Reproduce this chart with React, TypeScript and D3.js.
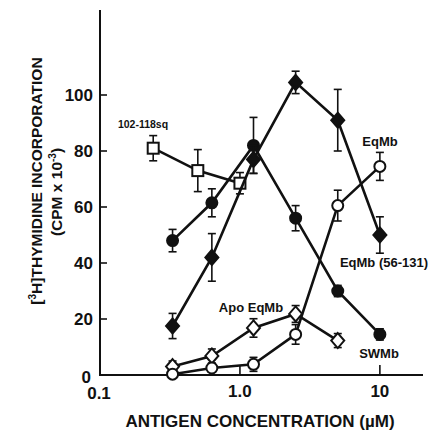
import * as d3 from "d3";

// antigen concentrations (uM) used for the Mb series
const concX = [0.33, 0.63, 1.25, 2.5, 5, 10];
const apoX = [0.33, 0.63, 1.25, 2.5, 5];
const sqX = [0.24, 0.5, 1.0];

// CPM x 10^-3, with error bar half-lengths
const sqY = [81, 73, 68.5];
const sqErr = [4.5, 7.5, 3.8];
const swmbY = [48, 61.5, 82, 56, 30, 14.5];
const swmbErr = [4, 5, 10, 4.5, 2, 2];
const eq56Y = [17.5, 42, 77, 104.5, 91, 50];
const eq56Err = [4.5, 8.5, 5, 4, 11, 6.5];
const eqmbY = [0.3, 2.5, 3.8, 14.5, 60.5, 74.5];
const eqmbErr = [1.5, 1.5, 2.5, 3.5, 5.5, 5];
const apoY = [3, 6.8, 16.8, 21.8, 12.3];
const apoErr = [2, 2.5, 3.3, 3, 2.5];

const xTicks = [0.1, 1, 10];
const xTickLabels = ["0.1", "1.0", "10"];
const yTicks = [0, 20, 40, 60, 80, 100];

const width = 429;
const height = 432;

const x = d3.scaleLog().domain([0.1, 20]).range([100, 422]);
const y = d3.scaleLinear().domain([0, 130]).range([375, 11]);

const font = "Arial, 'Liberation Sans', Helvetica, sans-serif";

type Shape = "square" | "circle" | "diamond";

function Marker({ cx, cy, shape, filled }: { cx: number; cy: number; shape: Shape; filled: boolean }) {
  const fill = filled ? "#111" : "#fff";
  if (shape === "circle") {
    return <circle cx={cx} cy={cy} r={5.5} fill={fill} stroke="#111" strokeWidth={2} />;
  }
  if (shape === "square") {
    return <rect x={cx - 5.5} y={cy - 5.5} width={11} height={11} fill={fill} stroke="#111" strokeWidth={2} />;
  }
  const p = `M${cx},${cy - 7.5}L${cx + 6.5},${cy}L${cx},${cy + 7.5}L${cx - 6.5},${cy}Z`;
  return <path d={p} fill={fill} stroke="#111" strokeWidth={2} />;
}

function Series({ xs, ys, errs, shape, filled }: { xs: number[]; ys: number[]; errs: number[]; shape: Shape; filled: boolean }) {
  const pts = xs.map((d, i) => [x(d), y(ys[i])] as [number, number]);
  const line = d3.line();
  return (
    <g>
      <path d={line(pts) || ""} fill="none" stroke="#111" strokeWidth={2.6} />
      {xs.map((d, i) => {
        const cx = x(d);
        const top = y(ys[i] + errs[i]);
        const bot = y(Math.max(0, ys[i] - errs[i]));
        return (
          <g key={"e" + i} stroke="#111" strokeWidth={1.6}>
            <line x1={cx} x2={cx} y1={top} y2={bot} />
            <line x1={cx - 4} x2={cx + 4} y1={top} y2={top} />
            <line x1={cx - 4} x2={cx + 4} y1={bot} y2={bot} />
          </g>
        );
      })}
      {xs.map((d, i) => (
        <Marker key={"m" + i} cx={x(d)} cy={y(ys[i])} shape={shape} filled={filled} />
      ))}
    </g>
  );
}

export default function App() {
  const labelStyle = { fontFamily: font, fontWeight: 700, fill: "#111" };
  return (
    <svg
      width={width}
      height={height}
      style={{ position: "absolute", left: 0, top: 0, background: "#fff" }}
    >
      {/* axes */}
      <line x1={100} x2={100} y1={10} y2={375} stroke="#111" strokeWidth={2} />
      <line x1={99} x2={423} y1={375} y2={375} stroke="#111" strokeWidth={2} />
      {yTicks.map((t) => (
        <g key={t}>
          <line x1={100} x2={107} y1={y(t)} y2={y(t)} stroke="#111" strokeWidth={1.6} />
          <text
            x={t === 0 ? 91 : 93}
            y={t === 0 ? 383 : y(t)}
            dy={t === 0 ? 0 : "0.36em"}
            textAnchor="end"
            fontSize={17}
            style={labelStyle}
          >
            {t}
          </text>
        </g>
      ))}
      {xTicks.map((t, i) => (
        <g key={t}>
          {t > 0.1 && <line x1={x(t)} x2={x(t)} y1={375} y2={365} stroke="#111" strokeWidth={1.6} />}
          <text x={x(t) - (t === 0.1 ? 1 : 0)} y={t === 0.1 ? 399 : 397} textAnchor="middle" fontSize={17} style={labelStyle}>
            {xTickLabels[i]}
          </text>
        </g>
      ))}

      <text x={260} y={427} textAnchor="middle" fontSize={17} style={labelStyle}>
        ANTIGEN CONCENTRATION (µM)
      </text>
      <text transform="translate(42,181) rotate(-90)" textAnchor="middle" fontSize={15.5} style={labelStyle}>
        [<tspan fontSize={10} dy={-6}>3</tspan>
        <tspan dy={6}>H]THYMIDINE INCORPORATION</tspan>
      </text>
      <text transform="translate(62,192) rotate(-90)" textAnchor="middle" fontSize={15.5} style={labelStyle}>
        (CPM x 10<tspan fontSize={10} dy={-6}>-3</tspan>
        <tspan dy={6}>)</tspan>
      </text>

      {/* data */}
      <Series xs={sqX} ys={sqY} errs={sqErr} shape="square" filled={false} />
      <Series xs={concX} ys={swmbY} errs={swmbErr} shape="circle" filled={true} />
      <Series xs={concX} ys={eq56Y} errs={eq56Err} shape="diamond" filled={true} />
      <Series xs={apoX} ys={apoY} errs={apoErr} shape="diamond" filled={false} />
      <Series xs={concX} ys={eqmbY} errs={eqmbErr} shape="circle" filled={false} />

      {/* series labels */}
      <text x={143} y={128} textAnchor="middle" fontSize={10.5} style={labelStyle}>102-118sq</text>
      <text x={380} y={146} textAnchor="middle" fontSize={13} style={labelStyle}>EqMb</text>
      <text x={384} y={267} textAnchor="middle" fontSize={13} style={labelStyle}>EqMb (56-131)</text>
      <text x={251} y={312} textAnchor="middle" fontSize={13} style={labelStyle}>Apo EqMb</text>
      <text x={379} y={358} textAnchor="middle" fontSize={13} style={labelStyle}>SWMb</text>
    </svg>
  );
}
